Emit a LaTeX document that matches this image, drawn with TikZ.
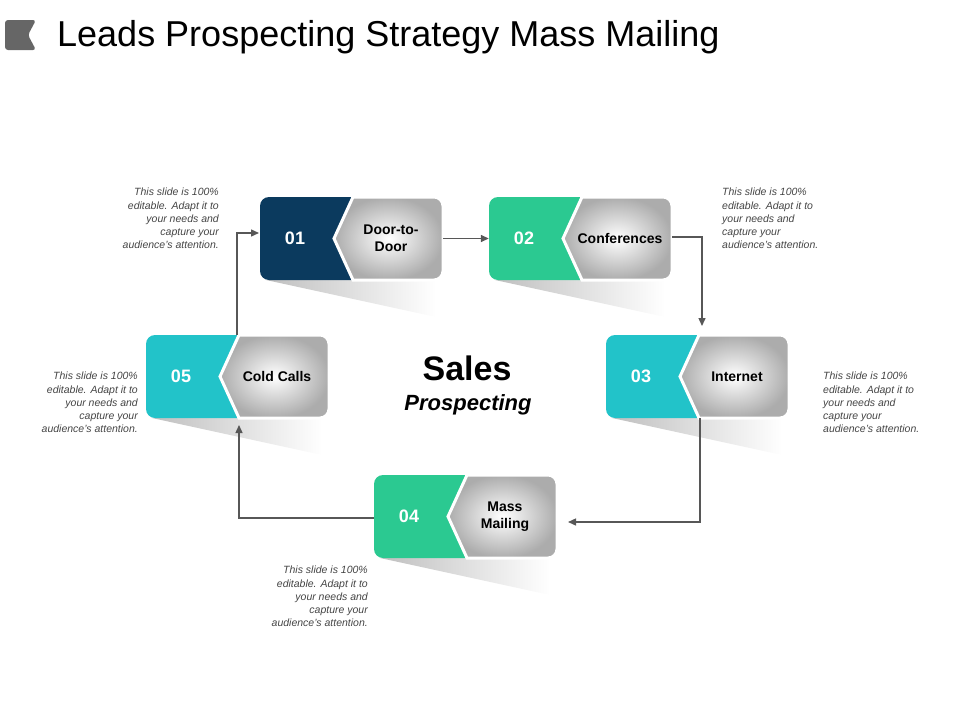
\documentclass[tikz,border=0pt]{standalone}
\usepackage{fontspec}
\setmainfont{Liberation Sans}
\usetikzlibrary{arrows.meta}
\definecolor{navy}{HTML}{0B3A5E}
\definecolor{grn}{HTML}{2BC991}
\definecolor{teal}{HTML}{22C3C9}
\definecolor{txtg}{HTML}{444444}
\tikzset{
 conn/.style={draw=txtg!90,line width=1.4pt,-{Triangle[length=8pt,width=7pt]}},
 note/.style={font=\fontsize{10.5}{13.2}\selectfont\itshape,text=txtg,inner sep=0pt},
 lbl/.style={font=\bfseries\fontsize{14}{17}\selectfont,align=center,text=black},
 num/.style={font=\bfseries\fontsize{18}{20}\selectfont,text=white},
}
\newcommand\pbox[6]{% name x0 y0 color num label
 \pgfmathsetmacro\xa{#2}\pgfmathsetmacro\ya{#3}
 \pgfmathsetmacro\xb{#2+183}\pgfmathsetmacro\yb{#3+83}
 \pgfmathsetmacro\xm{#2+91.5}\pgfmathsetmacro\ym{#3+41.5}
 \shade[left color=gray!50,right color=white] (\xa+6,\yb) -- (\xa+176,\yb) -- (\xa+176,\yb+37) -- cycle;
 \fill[#4,rounded corners=9pt] (\xa,\ya) rectangle (\xb,\yb);
 \shade[inner color=white,outer color=gray!65,draw=white,line width=3pt]
   (\xa+93,\ya) [rounded corners=9pt] -- (\xb,\ya) -- (\xb,\yb) [sharp corners] -- (\xa+93,\yb) -- (\xa+74,\ym) -- cycle;
 \node[minimum width=183pt,minimum height=83pt,inner sep=0pt] (#1) at (\xm,\ym) {};
 \node[num] at (\xa+35,\ym) {#5};
 \node[lbl] at (\xa+131,\ym) {#6};
}
\begin{document}
\begin{tikzpicture}[x=1pt,y=-1pt]
\useasboundingbox (0,0) rectangle (960,720);
\fill[gray!80!black,rounded corners=3pt] (5,20) -- (36,20) -- (28,35) -- (36,50) -- (5,50) -- cycle;
\node[anchor=west,font=\fontsize{36}{40}\selectfont,inner sep=0pt] (title) at (57,37) {Leads Prospecting Strategy Mass Mailing};

\pbox{b1}{260}{197}{navy}{01}{Door-to-\\Door}
\pbox{b2}{489}{197}{grn}{02}{Conferences}
\pbox{b5}{146}{335}{teal}{05}{Cold Calls}
\pbox{b3}{606}{335}{teal}{03}{Internet}
\pbox{b4}{374}{475}{grn}{04}{Mass\\Mailing}

\node[font=\bfseries\fontsize{34}{36}\selectfont] (sales) at (467,368) {Sales};
\node[font=\bfseries\itshape\fontsize{22}{24}\selectfont] (prosp) at (468,405) {Prospecting};

\coordinate (c1) at (237,233);
\draw[conn] (237,335) -- (c1) -- (259,233);
\draw[conn] (b1.east) -- (b2.west);
\draw[conn] (672,237) -| (702,326);
\draw[conn] (700,418) |- (568,522);
\draw[conn] (374,518) -| (239,425);

\node[note,align=right,anchor=north east] (n1) at (219,188) {This slide is 100\%\\editable. Adapt it to\\your needs and\\capture your\\audience's attention.};
\node[note,align=left,anchor=north west] (n2) at (722,188) {This slide is 100\%\\editable. Adapt it to\\your needs and\\capture your\\audience's attention.};
\node[note,align=left,anchor=north west] (n3) at (823,372) {This slide is 100\%\\editable. Adapt it to\\your needs and\\capture your\\audience's attention.};
\node[note,align=right,anchor=north east] (n5) at (138,372) {This slide is 100\%\\editable. Adapt it to\\your needs and\\capture your\\audience's attention.};
\node[note,align=right,anchor=north east] (n4) at (368,566) {This slide is 100\%\\editable. Adapt it to\\your needs and\\capture your\\audience's attention.};
\end{tikzpicture}
\end{document}
